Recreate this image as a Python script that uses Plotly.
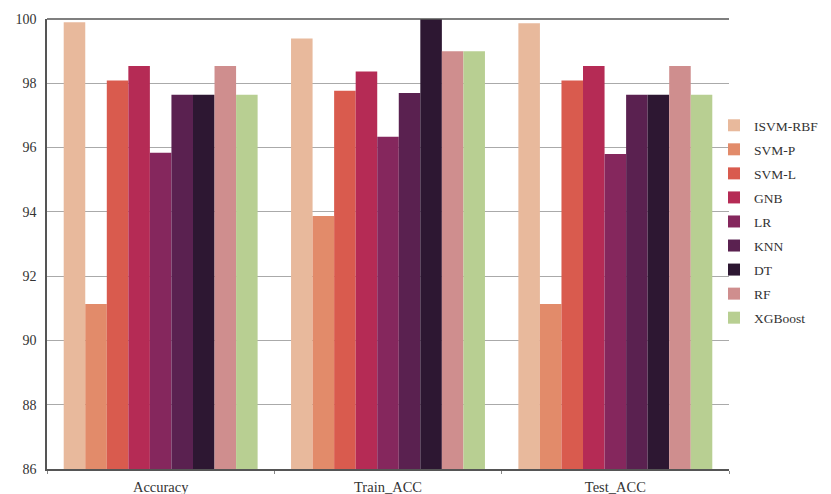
import plotly.graph_objects as go

categories = ["Accuracy", "Train_ACC", "Test_ACC"]
models = ["ISVM-RBF", "SVM-P", "SVM-L", "GNB", "LR", "KNN", "DT", "RF", "XGBoost"]
isvm_rbf = [99.90, 99.39, 99.87]
svm_p = [91.13, 93.87, 91.13]
svm_l = [98.09, 97.77, 98.09]
gnb = [98.54, 98.37, 98.54]
lr = [95.84, 96.34, 95.80]
knn = [97.64, 97.70, 97.64]
dt = [97.64, 100.0, 97.64]
rf = [98.54, 99.00, 98.54]
xgboost = [97.64, 99.00, 97.64]
colors = ["#E8B99C", "#E28B6A", "#D95B4E", "#B52B55", "#85275D",
          "#5A2150", "#2D1732", "#CF8E8E", "#B8CF92"]
series = [isvm_rbf, svm_p, svm_l, gnb, lr, knn, dt, rf, xgboost]

FONT = "Liberation Serif"

fig = go.Figure()
for name, vals, c in zip(models, series, colors):
    fig.add_trace(go.Bar(x=categories, y=vals, name=name, marker_color=c,
                         marker_line_width=0, legendgroup=name))

# the page places the figure 8px from the top-left corner
fig.update_layout(
    width=823, height=486,
    margin=dict(l=39, r=102, t=11, b=25, autoexpand=False),
    plot_bgcolor="white", paper_bgcolor="white",
    barmode="group", bargap=0.147, bargroupgap=0,
    font=dict(family=FONT, size=14, color="#333333"),
    legend=dict(x=0.978, y=0.55, xanchor="left", yanchor="middle",
                bgcolor="rgba(0,0,0,0)",
                font=dict(family=FONT, size=13.5, color="#333333"), tracegroupgap=3.5,
                traceorder="grouped", itemwidth=30),
    showlegend=True,
    shapes=[dict(type="line", xref="paper", yref="paper", x0=0, x1=1, y0=1, y1=1,
                 line=dict(color="#555555", width=1.5))],
)
fig.update_xaxes(showline=True, linecolor="#555555", linewidth=1.5,
                 ticks="outside", tickson="boundaries", ticklen=3, tickcolor="#888888",
                 showgrid=False, ticklabelstandoff=4,
                 tickfont=dict(family=FONT, size=14.5))
fig.update_yaxes(range=[86, 100], dtick=2, showline=True, linecolor="#555555",
                 linewidth=1.5, gridcolor="#AAAAAA", gridwidth=1, ticks="",
                 zeroline=False, ticklabelstandoff=6, tickfont=dict(family=FONT, size=14))
fig.write_html("out.html")
